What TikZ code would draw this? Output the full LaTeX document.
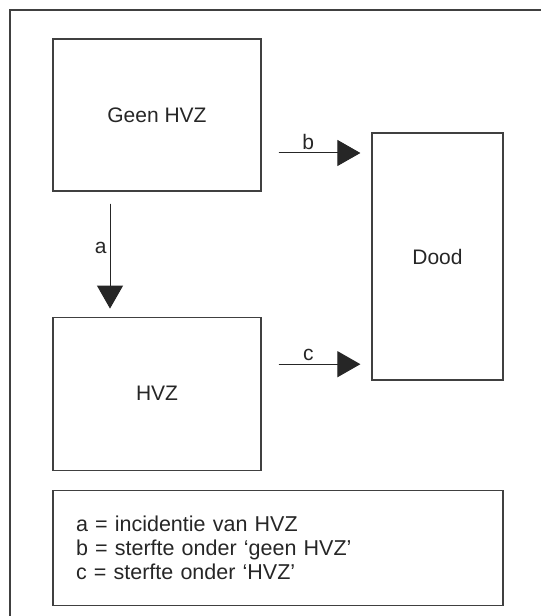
\documentclass[tikz,border=0pt]{standalone}
\usepackage{fontspec}
\setmainfont{Liberation Sans}
\usetikzlibrary{arrows.meta,positioning}

\begin{document}
\begin{tikzpicture}[
  font=\fontsize{21}{21}\selectfont,
  box/.style={draw=black!75, line width=1.2pt, text=black!85, align=center},
  arr/.style={-{Triangle[length=23pt, width=26pt]}, line width=1pt, draw=black!85, fill=black!85},
  lbl/.style={text=black!85, inner sep=3pt}
]
\useasboundingbox (0pt,0pt) rectangle (541pt,616pt);
\clip (0pt,0pt) rectangle (541pt,616pt);
\draw[box] (10pt,-20pt) rectangle (560pt,606pt);

\node[box, minimum width=208pt, minimum height=152pt] (geen) at (157pt,501pt) {Geen HVZ};
\node[box, minimum width=208pt, minimum height=153pt, below=125pt of geen] (hvz) {HVZ};
\node[box, minimum width=131pt, minimum height=247pt] (dood) at (437.5pt,359.5pt) {Dood};
\node[box, text width=404pt, inner xsep=23pt, minimum height=115pt, align=left,
  font=\fontsize{21.5}{24}\selectfont,
  below right=19pt and 0pt of hvz.south west] (legend)
  {a = incidentie van HVZ\\b = sterfte onder ‘geen HVZ’\\c = sterfte onder ‘HVZ’};

\coordinate (bstart) at ([shift={(17pt,-38pt)}]geen.east);
\coordinate (cstart) at ([shift={(17pt,29.5pt)}]hvz.east);

\draw[arr] ([shift={(-47pt,-12pt)}]geen.south) -- ([shift={(-47pt,8pt)}]hvz.north) node[lbl, pos=0.42, left] {a};
\draw[arr, shorten >=11pt] (bstart) -- (bstart -| dood.west) node[lbl, pos=0.32, above] {b};
\draw[arr, shorten >=11pt] (cstart) -- (cstart -| dood.west) node[lbl, pos=0.32, above] {c};
\end{tikzpicture}
\end{document}
